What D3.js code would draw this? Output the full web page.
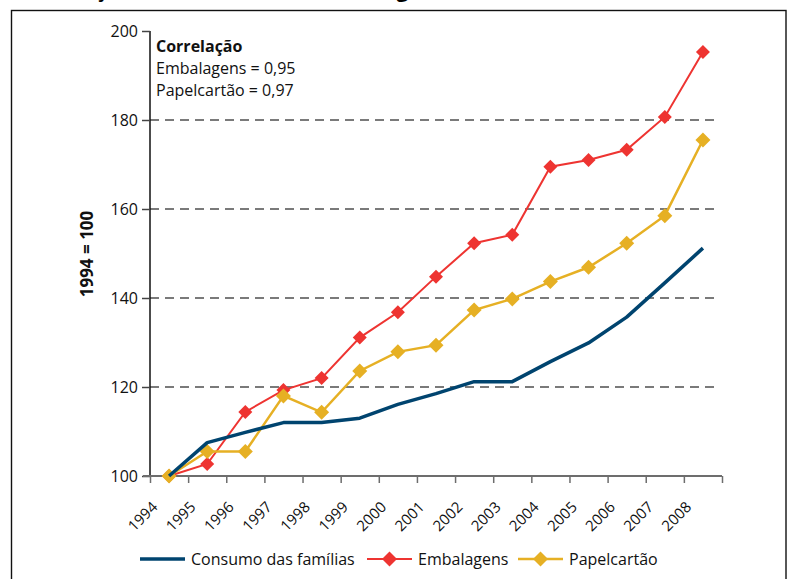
<!DOCTYPE html>
<html>
<head>
<meta charset="utf-8">
<script src="https://cdn.jsdelivr.net/npm/d3@7"></script>
<style>
    body { margin: 0; background: #fff; }
    svg { display: block; font-family: "Open Sans", sans-serif; }
</style>
</head>
<body>
<svg id="chart" width="792" height="579"></svg>
<script>
// data (index 1994 = 100)
var years = ["1994", "1995", "1996", "1997", "1998", "1999", "2000", "2001",
             "2002", "2003", "2004", "2005", "2006", "2007", "2008"];
var consumo = [100, 107.5, 109.8, 112, 112, 113, 116.1, 118.5, 121.2, 121.2, 125.7, 129.9, 135.7, 143.4, 151.2];
var embalagens = [100, 102.7, 114.4, 119.3, 122, 131.1, 136.8, 144.8, 152.3, 154.2, 169.5, 171, 173.3, 180.7, 195.3];
var papelcartao = [100, 105.5, 105.5, 118, 114.3, 123.6, 127.9, 129.4, 137.3, 139.8, 143.7, 146.9, 152.3, 158.5, 175.5];
var yTicks = [100, 120, 140, 160, 180, 200];
var gridTicks = [120, 140, 160, 180];
var legendLabels = ["Consumo das famílias", "Embalagens", "Papelcartão"];
var correlacao = ["Embalagens = 0,95", "Papelcartão = 0,97"];

var colors = { consumo: "#00446f", embalagens: "#ee3431", papel: "#e6b024" };

var svg = d3.select("#chart");

// title sits above the page edge, only its descenders show
svg.append("text")
    .attr("x", 18).attr("y", -3)
    .attr("font-weight", "bold").attr("font-size", 21)
    .text("Correlação entre consumo e embalagens");

svg.append("rect")
    .attr("x", 11.5).attr("y", 10.5)
    .attr("width", 774.5).attr("height", 600)
    .attr("fill", "none").attr("stroke", "#111").attr("stroke-width", 1.4);

var x = d3.scaleLinear().domain([0, years.length]).range([150, 722]);
var y = d3.scaleLinear().domain([100, 200]).range([476, 31]);

function px(d, i) { return x(i + 0.5); }

// dashed grid
svg.append("g").selectAll("line")
    .data(gridTicks)
    .enter().append("line")
        .attr("x1", 150).attr("x2", 720)
        .attr("y1", function(d) { return y(d); })
        .attr("y2", function(d) { return y(d); })
        .attr("stroke", "#7a7a7a").attr("stroke-width", 2)
        .attr("stroke-dasharray", "9,6");

// y axis
var yAxis = svg.append("g")
    .attr("transform", "translate(150,0)")
    .call(d3.axisLeft(y).tickValues(yTicks).tickSize(8).tickFormat(d3.format("d")));
yAxis.select(".domain").attr("stroke", "#111").attr("stroke-width", 1.5)
    .attr("d", "M0," + y(200) + "V" + y(100));
yAxis.selectAll(".tick line").attr("stroke", "#444").attr("stroke-width", 1.5);
yAxis.selectAll(".tick text")
    .attr("font-family", "Open Sans").attr("font-size", 16).attr("fill", "#111").attr("x", -12);

// x axis, ticks on the year boundaries
var xAxis = svg.append("g")
    .attr("transform", "translate(0,476)")
    .call(d3.axisBottom(x).tickValues(d3.range(years.length + 1)).tickSize(7)
        .tickFormat(function(i) { return years[i] || ""; }));
xAxis.select(".domain").attr("stroke", "#6d6d6d").attr("stroke-width", 2)
    .attr("d", "M143,0H722");
xAxis.selectAll(".tick line").attr("stroke", "#6d6d6d").attr("stroke-width", 1.5);
xAxis.selectAll(".tick text")
    .attr("font-family", "Open Sans").attr("font-size", 15).attr("fill", "#111")
    .attr("text-anchor", "end")
    .attr("y", 0).attr("dy", 0)
    .attr("transform", "translate(8,32) rotate(-45)");

// y axis title
svg.append("text")
    .attr("transform", "translate(93,254) rotate(-90)")
    .attr("text-anchor", "middle")
    .attr("font-weight", "bold").attr("font-size", 17).attr("fill", "#111")
    .text("1994 = 100");

// correlation note
var note = svg.append("text").attr("x", 156).attr("font-size", 16).attr("fill", "#111");
note.append("tspan").attr("x", 156).attr("y", 52).attr("font-weight", "bold").text("Correlação");
note.selectAll("tspan.v")
    .data(correlacao)
    .enter().append("tspan")
        .attr("class", "v")
        .attr("x", 156)
        .attr("y", function(d, i) { return 74 + i * 21.5; })
        .text(function(d) { return d; });

// series
var line = d3.line()
    .x(px)
    .y(function(d) { return y(d); });

function diamond(r) {
    return "M0," + (-r) + "L" + r + ",0L0," + r + "L" + (-r) + ",0Z";
}

svg.append("path").datum(embalagens)
    .attr("d", line).attr("fill", "none")
    .attr("stroke", colors.embalagens).attr("stroke-width", 2);

svg.append("path").datum(papelcartao)
    .attr("d", line).attr("fill", "none")
    .attr("stroke", colors.papel).attr("stroke-width", 2.5);

svg.append("g").selectAll("path")
    .data(embalagens)
    .enter().append("path")
        .attr("d", diamond(7))
        .attr("transform", function(d, i) { return "translate(" + px(d, i) + "," + y(d) + ")"; })
        .attr("fill", colors.embalagens);

svg.append("g").selectAll("path")
    .data(papelcartao)
    .enter().append("path")
        .attr("d", diamond(7.5))
        .attr("transform", function(d, i) { return "translate(" + px(d, i) + "," + y(d) + ")"; })
        .attr("fill", colors.papel);

svg.append("path").datum(consumo)
    .attr("d", line).attr("fill", "none")
    .attr("stroke", colors.consumo).attr("stroke-width", 3.5)
    .attr("stroke-linejoin", "round");

// legend
var legend = svg.append("g").attr("transform", "translate(0,559)");
var legendItems = [
    { x: 140, color: colors.consumo, width: 3.5, marker: false },
    { x: 367, color: colors.embalagens, width: 2, marker: true },
    { x: 518, color: colors.papel, width: 2.5, marker: true }
];
legendItems.forEach(function(item, i) {
    legend.append("line")
        .attr("x1", item.x).attr("x2", item.x + 45)
        .attr("stroke", item.color).attr("stroke-width", item.width);
    if (item.marker) {
        legend.append("path")
            .attr("d", diamond(7.5))
            .attr("transform", "translate(" + (item.x + 22.5) + ",0)")
            .attr("fill", item.color);
    }
    legend.append("text")
        .attr("x", item.x + 51).attr("y", 6)
        .attr("font-size", 16).attr("fill", "#111")
        .text(legendLabels[i]);
});
</script>
</body>
</html>
